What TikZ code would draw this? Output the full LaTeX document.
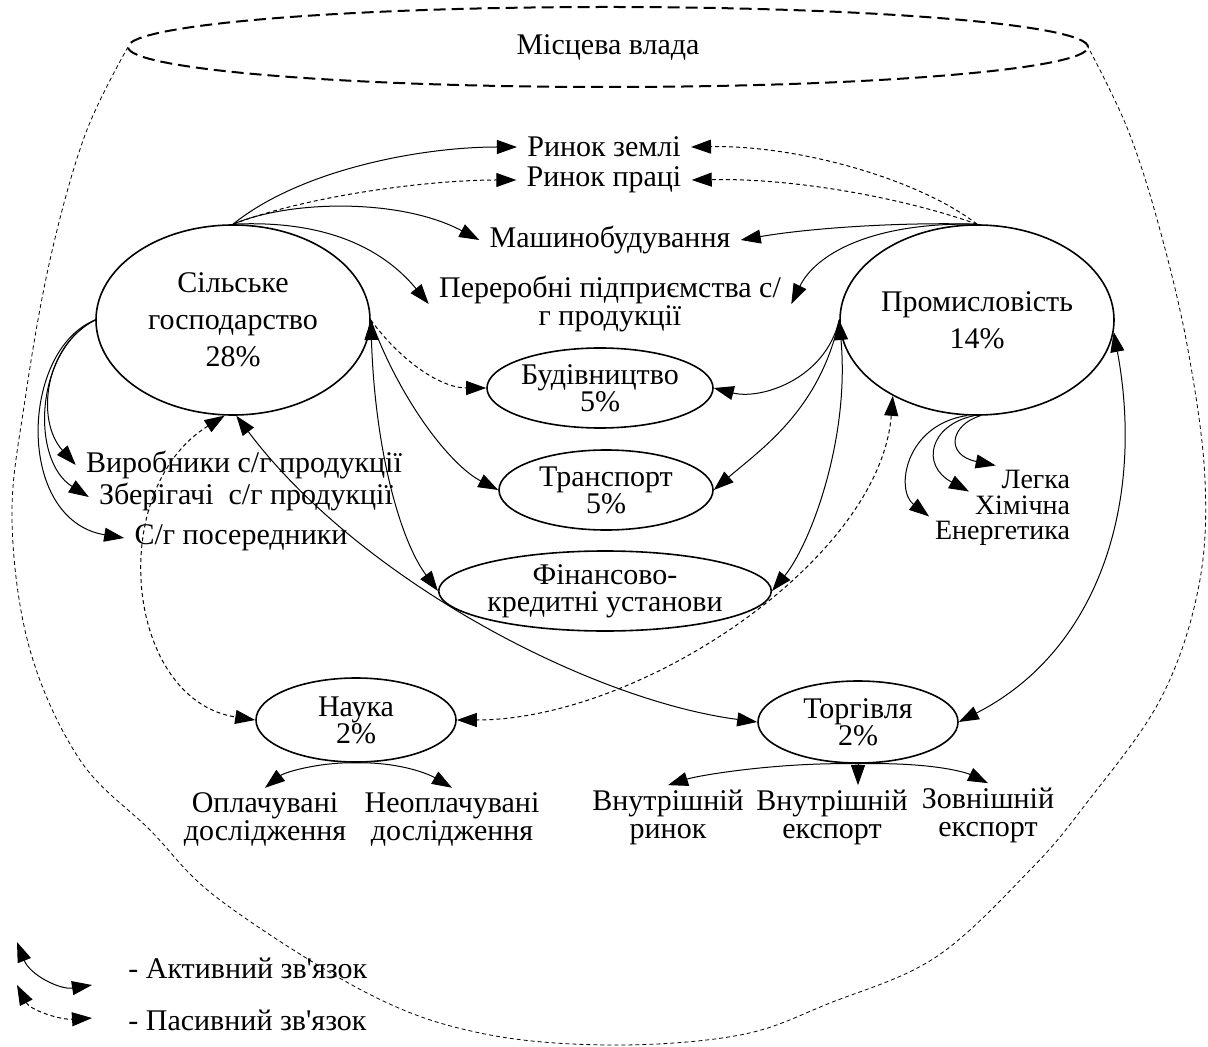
\documentclass[tikz,border=0pt]{standalone}
\usepackage{fontspec}
\newfontfamily\uaf{Liberation Serif}
\usetikzlibrary{shapes.geometric,arrows.meta}
\lineskiplimit=-50pt
\begin{document}
\begin{tikzpicture}[x=0.5pt,y=-0.5pt,
	every node/.style={font=\uaf\fontsize{15}{17}\selectfont},
	oval/.style={draw,ellipse,line width=0.8pt,inner sep=0pt,align=center,font=\uaf\fontsize{15}{13.5}\selectfont},
	lbl/.style={inner sep=5pt,align=center,font=\uaf\fontsize{15}{14}\selectfont},
	sml/.style={inner sep=0pt,outer sep=3pt,text height=8.5pt,text depth=2pt,anchor=east,font=\uaf\fontsize{14}{12.5}\selectfont},
	act/.style={-{Triangle[length=10pt,width=7pt]},line width=0.5pt},
	actb/.style={{Triangle[length=10pt,width=7pt]}-{Triangle[length=10pt,width=7pt]},line width=0.5pt},
	pas/.style={act,dash pattern=on 2pt off 1.5pt},
	pasb/.style={actb,dash pattern=on 2pt off 1.5pt},
	bowl/.style={line width=0.4pt,dash pattern=on 2pt off 1.5pt}]
	\useasboundingbox (0,0) rectangle (1208,1047);
	\node[draw,ellipse,line width=1pt,dash pattern=on 6pt off 3pt,minimum width=480pt,minimum height=40pt] (mv) at (608,47) {Місцева влада};
	\draw[bowl] plot[smooth,tension=0.6] coordinates {(128,47) (85,135) (50,260) (25,400) (12,520) (30,650) (80,760) (150,830) (220,900) (367,993) (480,1033) (610,1045) (740,1035) (830,1003) (936,957) (1030,870) (1085,805) (1160,700) (1198,590) (1205,480) (1188,350) (1160,230) (1128,130) (1088,47)};
	\node[oval,minimum width=137pt,minimum height=95pt,font=\uaf\fontsize{15}{18.5}\selectfont] (sg) at (233,320) {Сільське\\господарство\\28\%};
	\node[oval,minimum width=137pt,minimum height=95pt,font=\uaf\fontsize{15}{18.5}\selectfont] (prom) at (977,320) {Промисловість\\14\%};
	\node[oval,minimum width=113pt,minimum height=40pt] (bud) at (600,388) {Будівництво\\5\%};
	\node[oval,minimum width=107pt,minimum height=40pt] (trans) at (606,490) {Транспорт\\5\%};
	\node[oval,minimum width=150pt,minimum height=40pt] (fin) at (605,591) {Фінансово-\\кредитні установи};
	\node[oval,minimum width=100pt,minimum height=42pt] (nauka) at (356,720) {Наука\\2\%};
	\node[oval,minimum width=100pt,minimum height=41pt] (torg) at (858,722) {Торгівля\\2\%};
	\node[lbl] (rz) at (604,147) {Ринок землі};
	\node[lbl] (rp) at (604,180) {Ринок праці};
	\node[lbl] (mash) at (610,240) {Машинобудування};
	\node[lbl] (perer) at (610,304) {Переробні підприємства с/\\г продукції};
	\node[lbl] (vyr) at (244,465) {Виробники с/г продукції};
	\node[lbl] (zber) at (246,497) {Зберігачі\ \ с/г продукції};
	\node[lbl] (pos) at (241,538) {С/г посередники};
	\node[sml] (lehka) at (1076,482) {Легка};
	\node[sml] (him) at (1076,508) {Хімічна};
	\node[sml] (energ) at (1076,533) {Енергетика};
	\node[lbl,inner sep=2pt] (opl) at (265,819) {Оплачувані\\дослідження};
	\node[lbl,inner sep=2pt] (neopl) at (452,819) {Неоплачувані\\дослідження};
	\node[lbl,inner sep=2pt] (vr) at (668,817) {Внутрішній\\ринок};
	\node[lbl,inner sep=2pt] (ve) at (832,817) {Внутрішній\\експорт};
	\node[lbl,inner sep=2pt] (ze) at (988,815) {Зовнішній\\експорт};
	\draw[act] (sg.north) .. controls (300,170) and (420,147) .. (rz.west);
	\draw[pas] (sg.north) .. controls (310,195) and (430,180) .. (rp.west);
	\draw[act] (sg.north) .. controls (290,200) and (400,198) .. (mash.west);
	\draw[act] (sg.north) .. controls (320,220) and (380,245) .. (perer.west);
	\draw[pas] (prom.north) .. controls (920,180) and (800,145) .. (rz.east);
	\draw[pas] (prom.north) .. controls (910,200) and (800,178) .. (rp.east);
	\draw[act] (prom.north) .. controls (900,222) and (810,228) .. (mash.east);
	\draw[act] (prom.north) .. controls (870,222) and (815,255) .. (perer.east);
	\draw[pas] (sg.east) .. controls (400,360) and (440,388) .. (bud.west);
	\draw[act] (sg.east) .. controls (400,400) and (450,465) .. (trans.west);
	\draw[actb] (sg.east) .. controls (375,450) and (400,540) .. (fin.west);
	\draw[act] (prom.west) .. controls (825,380) and (760,400) .. (bud.east);
	\draw[act] (prom.west) .. controls (820,410) and (760,450) .. (trans.east);
	\draw[actb] (prom.west) .. controls (850,440) and (810,545) .. (fin.east);
	\draw[pasb] (sg.265) .. controls (105,490) and (125,700) .. (nauka.west);
	\draw[actb] (sg.272) .. controls (360,580) and (590,700) .. (torg.west);
	\draw[pasb] (prom.222) .. controls (880,560) and (640,720) .. (nauka.east);
	\draw[actb] (prom.355) .. controls (1145,500) and (1100,650) .. (torg.east);
	\draw[act] (sg.west) .. controls (45,345) and (35,420) .. (vyr.west);
	\draw[act] (sg.west) .. controls (35,350) and (30,460) .. (zber.west);
	\draw[act] (sg.west) .. controls (20,350) and (15,520) .. (pos.west);
	\draw[act] (prom.272) .. controls (950,425) and (945,455) .. (lehka.north west);
	\draw[act] (prom.268) .. controls (930,425) and (920,465) .. (him.north west);
	\draw[act] (prom.264) .. controls (905,425) and (895,490) .. (energ.north west);
	\draw[act] (nauka.south) .. controls (320,762) and (285,772) .. (opl.north);
	\draw[act] (nauka.south) .. controls (395,762) and (425,772) .. (neopl.north);
	\draw[act] (torg.south) .. controls (780,762) and (700,775) .. (vr.north);
	\draw[act] (torg.south) -- (torg.south |- ve.north);
	\draw[act] (torg.south) .. controls (930,762) and (965,772) .. (ze.north);
	\coordinate (la1) at (17,942);
	\coordinate (la2) at (92,985);
	\coordinate (lp1) at (17,985);
	\coordinate (lp2) at (92,1018);
	\draw[actb] (la1) .. controls (30,975) and (60,990) .. (la2);
	\draw[pasb] (lp1) .. controls (30,1010) and (60,1020) .. (lp2);
	\node[anchor=west,inner sep=0pt] (lact) at (128,968) {- Активний зв'язок};
	\node[anchor=west,inner sep=0pt] (lpas) at (128,1020) {- Пасивний зв'язок};
\end{tikzpicture}
\end{document}
